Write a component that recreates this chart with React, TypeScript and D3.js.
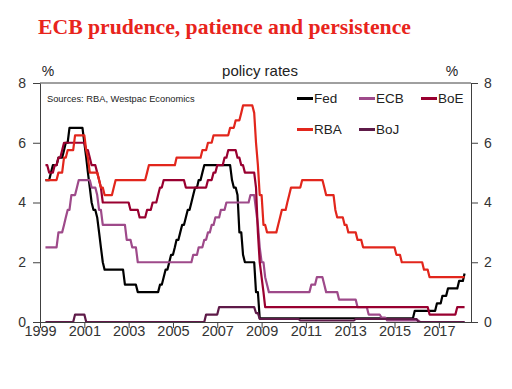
import React, { useRef, useEffect } from 'react';
import * as d3 from 'd3';

type Pt = [string, number];

// policy rate changes (month, rate %)
const fedRates: Pt[] = [
  ['1999-04', 4.75], ['1999-07', 5.0], ['1999-08', 5.25], ['1999-11', 5.5], ['2000-02', 5.75],
  ['2000-03', 6.0], ['2000-05', 6.5], ['2001-01', 6.0], ['2001-02', 5.5], ['2001-03', 5.0],
  ['2001-04', 4.5], ['2001-05', 4.0], ['2001-06', 3.75], ['2001-08', 3.5], ['2001-09', 3.0],
  ['2001-10', 2.5], ['2001-11', 2.0], ['2001-12', 1.75], ['2002-11', 1.25], ['2003-06', 1.0],
  ['2004-06', 1.25], ['2004-08', 1.5], ['2004-09', 1.75], ['2004-11', 2.0], ['2004-12', 2.25],
  ['2005-02', 2.5], ['2005-03', 2.75], ['2005-05', 3.0], ['2005-06', 3.25], ['2005-08', 3.5],
  ['2005-09', 3.75], ['2005-11', 4.0], ['2005-12', 4.25], ['2006-01', 4.5], ['2006-03', 4.75],
  ['2006-05', 5.0], ['2006-06', 5.25], ['2007-09', 4.75], ['2007-10', 4.5], ['2007-12', 4.25],
  ['2008-01', 3.0], ['2008-03', 2.25], ['2008-04', 2.0], ['2008-10', 1.0], ['2008-12', 0.125],
  ['2015-12', 0.375], ['2016-12', 0.625], ['2017-03', 0.875], ['2017-06', 1.125],
  ['2017-12', 1.375], ['2018-03', 1.625],
];

const ecbRates: Pt[] = [
  ['1999-04', 2.5], ['1999-11', 3.0], ['2000-02', 3.25], ['2000-03', 3.5], ['2000-04', 3.75],
  ['2000-06', 4.25], ['2000-09', 4.5], ['2000-10', 4.75], ['2001-05', 4.5], ['2001-08', 4.25],
  ['2001-09', 3.75], ['2001-11', 3.25], ['2002-12', 2.75], ['2003-03', 2.5], ['2003-06', 2.0],
  ['2005-12', 2.25], ['2006-03', 2.5], ['2006-06', 2.75], ['2006-08', 3.0], ['2006-10', 3.25],
  ['2006-12', 3.5], ['2007-03', 3.75], ['2007-06', 4.0], ['2008-07', 4.25], ['2008-10', 3.75],
  ['2008-11', 3.25], ['2008-12', 2.5], ['2009-01', 2.0], ['2009-03', 1.5], ['2009-04', 1.25],
  ['2009-05', 1.0], ['2011-04', 1.25], ['2011-07', 1.5], ['2011-11', 1.25], ['2011-12', 1.0],
  ['2012-07', 0.75], ['2013-05', 0.5], ['2013-11', 0.25], ['2014-06', 0.15], ['2014-09', 0.05],
  ['2016-03', 0.0],
];

const boeRates: Pt[] = [
  ['1999-04', 5.25], ['1999-06', 5.0], ['1999-09', 5.25], ['1999-11', 5.5], ['2000-01', 5.75],
  ['2000-02', 6.0], ['2001-02', 5.75], ['2001-04', 5.5], ['2001-05', 5.25], ['2001-08', 5.0],
  ['2001-09', 4.75], ['2001-10', 4.5], ['2001-11', 4.0], ['2003-02', 3.75], ['2003-07', 3.5],
  ['2003-11', 3.75], ['2004-02', 4.0], ['2004-05', 4.25], ['2004-06', 4.5], ['2004-08', 4.75],
  ['2005-08', 4.5], ['2006-08', 4.75], ['2006-11', 5.0], ['2007-01', 5.25], ['2007-05', 5.5],
  ['2007-07', 5.75], ['2007-12', 5.5], ['2008-02', 5.25], ['2008-04', 5.0], ['2008-10', 4.5],
  ['2008-11', 3.0], ['2008-12', 2.0], ['2009-01', 1.5], ['2009-02', 1.0], ['2009-03', 0.5],
  ['2016-08', 0.25], ['2017-11', 0.5],
];

const rbaRates: Pt[] = [
  ['1999-04', 4.75], ['1999-11', 5.0], ['2000-02', 5.5], ['2000-04', 5.75], ['2000-08', 6.25],
  ['2001-02', 5.75], ['2001-03', 5.5], ['2001-04', 5.0], ['2001-09', 4.75], ['2001-10', 4.5],
  ['2001-12', 4.25], ['2002-05', 4.5], ['2002-06', 4.75], ['2003-11', 5.0], ['2003-12', 5.25],
  ['2005-03', 5.5], ['2006-05', 5.75], ['2006-08', 6.0], ['2006-11', 6.25], ['2007-08', 6.5],
  ['2007-11', 6.75], ['2008-02', 7.0], ['2008-03', 7.25], ['2008-09', 7.0], ['2008-10', 6.0],
  ['2008-11', 5.25], ['2008-12', 4.25], ['2009-02', 3.25], ['2009-04', 3.0], ['2009-10', 3.25],
  ['2009-11', 3.5], ['2009-12', 3.75], ['2010-03', 4.0], ['2010-04', 4.25], ['2010-05', 4.5],
  ['2010-11', 4.75], ['2011-11', 4.5], ['2011-12', 4.25], ['2012-05', 3.75], ['2012-06', 3.5],
  ['2012-10', 3.25], ['2012-12', 3.0], ['2013-05', 2.75], ['2013-08', 2.5], ['2015-02', 2.25],
  ['2015-05', 2.0], ['2016-05', 1.75], ['2016-08', 1.5],
];

const bojRates: Pt[] = [
  ['1999-04', 0], ['2000-08', 0.25], ['2001-02', 0], ['2006-07', 0.25], ['2007-02', 0.5],
  ['2008-10', 0.3], ['2008-12', 0.1], ['2010-10', 0.05], ['2013-04', 0.1], ['2016-02', 0],
];

const endMonth = '2018-03';
const yTicks = [0, 2, 4, 6, 8];
const xTickYears = [1999, 2001, 2003, 2005, 2007, 2009, 2011, 2013, 2015, 2017];

const series = [
  { name: 'Fed', data: fedRates, color: '#000000' },
  { name: 'ECB', data: ecbRates, color: '#9e4a8a' },
  { name: 'BoE', data: boeRates, color: '#990030' },
  { name: 'RBA', data: rbaRates, color: '#e2261c' },
  { name: 'BoJ', data: bojRates, color: '#5e1a48' },
];

const W = 512;
const H = 389;
const left = 40, right = 471, top = 83, bottom = 322;
const font = '"Liberation Sans", Arial, sans-serif';
const axisColor = '#404040';

const parse = d3.timeParse('%Y-%m');

export default function App() {
  const leftRef = useRef<SVGGElement>(null);
  const rightRef = useRef<SVGGElement>(null);
  const bottomRef = useRef<SVGGElement>(null);

  const x = d3.scaleTime()
    .domain([new Date(1999, 0, 1), new Date(2018, 5, 15)])
    .range([left, right]);
  const y = d3.scaleLinear().domain([0, 8]).range([bottom, top]);

  // monthly data: each change ramps over one month
  const toPath = (data: Pt[]) => {
    const pts: [Date, number][] = [];
    data.forEach(([m, v], i) => {
      const d = parse(m) as Date;
      if (i > 0) pts.push([d3.timeMonth.offset(d, -1), data[i - 1][1]]);
      pts.push([d, v]);
    });
    pts.push([parse(endMonth) as Date, data[data.length - 1][1]]);
    return d3.line<[Date, number]>()
      .x(d => x(d[0]))
      .y(d => y(d[1]))(pts) || '';
  };

  useEffect(() => {
    const style = (g: d3.Selection<SVGGElement, unknown, null, undefined>) => {
      g.selectAll('path, line').attr('stroke', axisColor);
      g.selectAll('text').attr('fill', '#333').attr('font-family', font);
    };
    const gl = d3.select(leftRef.current!);
    gl.selectAll('*').remove();
    gl.call(d3.axisLeft(y).tickValues(yTicks).tickSize(7).tickSizeOuter(0).tickPadding(7).tickFormat(d3.format('d')))
      .attr('font-size', 14);
    style(gl);

    const gr = d3.select(rightRef.current!);
    gr.selectAll('*').remove();
    gr.call(d3.axisRight(y).tickValues(yTicks).tickSize(7).tickSizeOuter(0).tickPadding(6).tickFormat(d3.format('d')))
      .attr('font-size', 14);
    style(gr);

    const gb = d3.select(bottomRef.current!);
    gb.selectAll('*').remove();
    gb.call(d3.axisBottom(x).tickValues(xTickYears.map(yr => new Date(yr, 0, 1)))
      .tickSize(6).tickSizeOuter(0).tickPadding(-2).tickFormat(d3.timeFormat('%Y') as any))
      .attr('font-size', 14.5);
    style(gb);
  }, []);

  return (
    <svg width={W} height={H} style={{ position: 'absolute', left: 0, top: 0, background: '#fff' }}>
      <text x={38} y={34} fontFamily='"Liberation Serif", "Times New Roman", serif' fontWeight="bold"
        fontSize={21.7} fill="#e8241c">ECB prudence, patience and persistence</text>

      <text x={48} y={76} fontFamily={font} fontSize={14} fill="#222" textAnchor="middle">%</text>
      <text x={452} y={76} fontFamily={font} fontSize={14} fill="#222" textAnchor="middle">%</text>
      <text x={260} y={76} fontFamily={font} fontSize={15} fill="#222" textAnchor="middle">policy rates</text>

      <g>
        {series.map(s => (
          <path key={s.name} d={toPath(s.data)} fill="none" stroke={s.color} strokeWidth={2.2}
            strokeLinejoin="round" />
        ))}
      </g>

      <line x1={left} x2={right} y1={top} y2={top} stroke={axisColor} />
      <g ref={leftRef} transform={`translate(${left},0)`} />
      <g ref={rightRef} transform={`translate(${right},0)`} />
      <g ref={bottomRef} transform={`translate(0,${bottom})`} />

      <text x={47} y={101.5} fontFamily={font} fontSize={9.3} fill="#222">Sources: RBA, Westpac Economics</text>

      {series.map((s, i) => {
        const col = i % 3;
        const row = Math.floor(i / 3);
        const lx = 297 + col * 62;
        const ly = 98.5 + row * 31;
        return (
          <g key={s.name}>
            <line x1={lx} x2={lx + 16} y1={ly} y2={ly} stroke={s.color} strokeWidth={3} />
            <text x={lx + 17} y={ly + 4.7} fontFamily={font} fontSize={13.5} fill="#222">{s.name}</text>
          </g>
        );
      })}
    </svg>
  );
}
